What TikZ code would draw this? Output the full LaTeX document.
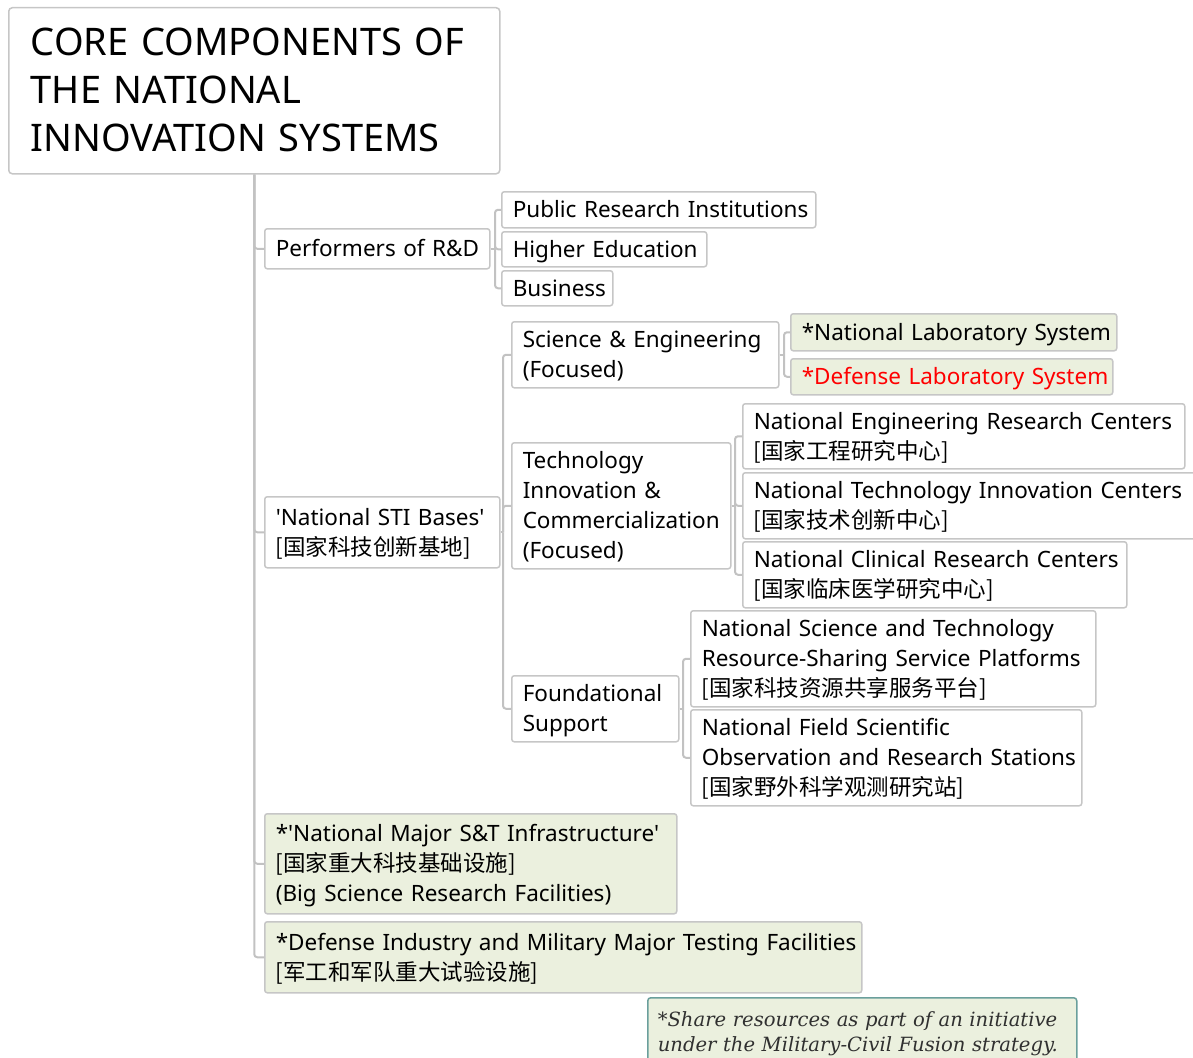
\documentclass[tikz,border=0pt]{standalone}
\usepackage{fontspec}
\setmainfont{Noto Sans}
\newfontfamily\cjk{Noto Sans CJK SC}
\newfontfamily\sq{Noto Sans}
\newfontfamily\notefont{DejaVu Serif}
\definecolor{wirecol}{HTML}{C2C2C2}
\definecolor{framecol}{HTML}{C6C6C6}
\definecolor{sage}{HTML}{EBF0DE}
\definecolor{noteframe}{HTML}{6A9F9C}
\definecolor{notetext}{HTML}{303030}
\definecolor{alertred}{HTML}{FF0000}
\newcommand\bodystrut{\rule[-7pt]{0pt}{30pt}}
\newcommand\titlestrut{\rule[-11pt]{0pt}{48pt}}
\newcommand\apos{{\sq'}}
\tikzset{
  bx/.style={draw=framecol, line width=1.5pt, rounded corners=2.5pt, anchor=north west,
    inner xsep=11pt, inner ysep=0pt, align=left, font=\fontsize{22.5}{30}\selectfont,
    execute at begin node=\bodystrut, execute at end node=\bodystrut},
  hl/.style={bx, fill=sage},
  titlebox/.style={draw=framecol, line width=1.5pt, rounded corners=3.5pt, anchor=north west,
    inner xsep=22pt, inner ysep=0pt, align=left, font=\fontsize{38}{48}\selectfont},
  notebox/.style={draw=noteframe, fill=sage, line width=1.5pt, rounded corners=3pt, anchor=north west,
    inner xsep=10pt, inner ysep=0pt, align=left, text=notetext,
    font=\notefont\itshape\fontsize{19.6}{25}\selectfont},
  wire/.style={draw=wirecol, line width=2pt, rounded corners=3pt},
}
\begin{document}
\begin{tikzpicture}[x=1pt, y=-1pt]
\useasboundingbox (0,0) rectangle (1193,1057);

% root
\node[titlebox, text width=447pt, minimum height=166pt] (title) at (8,7)
  {\titlestrut CORE COMPONENTS OF\\THE NATIONAL\\INNOVATION SYSTEMS\titlestrut};

% first level
\node[bx, text width=203pt, minimum height=40pt] (perf) at (264,228) {\mbox{Performers of R\&D}};
\node[bx, text width=213pt, minimum height=71pt] (sti) at (264,496)
  {\mbox{\apos National STI Bases\apos}\\{\cjk [国家科技创新基地]}};
\node[hl, text width=390pt, minimum height=100pt] (nmi) at (264,813)
  {\mbox{*\apos National Major S\&T Infrastructure\apos}\\{\cjk [国家重大科技基础设施]}\\\mbox{(Big Science Research Facilities)}};
\node[hl, text width=575pt, minimum height=71pt] (dimt) at (264,921)
  {\mbox{*Defense Industry and Military Major Testing Facilities}\\{\cjk [军工和军队重大试验设施]}};

% performers of R&D
\node[bx, text width=292pt, minimum height=36pt] (pri) at (501,191) {\mbox{Public Research Institutions}};
\node[bx, text width=183pt, minimum height=35pt] (he) at (501,231) {\mbox{Higher Education}};
\node[bx, text width=89pt, minimum height=35pt] (bus) at (501,270) {Business};

% national STI bases
\node[bx, text width=245pt, minimum height=66pt] (se) at (511,321) {\mbox{Science \& Engineering}\\(Focused)};
\node[bx, text width=197pt, minimum height=126pt] (tic) at (511,442)
  {Technology\\\mbox{Innovation \&}\\\mbox{Commercialization}\\(Focused)};
\node[bx, text width=145pt, minimum height=66pt] (fs) at (511,675) {Foundational\\Support};

% science & engineering
\node[hl, text width=304pt, minimum height=37pt] (nls) at (790,313) {\mbox{*National Laboratory System}};
\node[hl, text width=300pt, minimum height=36pt, text=alertred] (dls) at (790,358) {\mbox{*Defense Laboratory System}};

% technology innovation & commercialization
\node[bx, text width=420pt, minimum height=65pt] (nerc) at (742,403)
  {\mbox{National Engineering Research Centers}\\{\cjk [国家工程研究中心]}};
\node[bx, text width=448pt, minimum height=66pt] (ntic) at (742,472)
  {\mbox{National Technology Innovation Centers}\\{\cjk [国家技术创新中心]}};
\node[bx, text width=362pt, minimum height=66pt] (ncrc) at (742,541)
  {\mbox{National Clinical Research Centers}\\{\cjk [国家临床医学研究中心]}};

% foundational support
\node[bx, text width=383pt, minimum height=96pt] (nsts) at (690,610)
  {\mbox{National Science and Technology}\\\mbox{Resource-Sharing Service Platforms}\\{\cjk [国家科技资源共享服务平台]}};
\node[bx, text width=369pt, minimum height=96pt] (nfs) at (690,709)
  {\mbox{National Field Scientific}\\\mbox{Observation and Research Stations}\\{\cjk [国家野外科学观测研究站]}};

% footnote
\node[notebox, text width=409pt, minimum height=72pt] (note) at (647,997)
  {\rule[-7pt]{0pt}{25pt}\mbox{*Share resources as part of an initiative}\\\mbox{under the Military-Civil Fusion strategy.}\rule[-7pt]{0pt}{25pt}};

% trunk from the root
\foreach \c in {perf,sti,nmi,dimt}
  \draw[wire] (title.south) |- (\c.west);

% performers of R&D
\draw[wire] (perf.east) -- ++(4.5,0) coordinate (jperf);
\foreach \c in {pri,he,bus}
  \draw[wire] (jperf) |- (\c.west);

% national STI bases
\draw[wire] (sti.east) -- ++(2.5,0) coordinate (jsti);
\foreach \c in {se,tic,fs}
  \draw[wire] (jsti) |- (\c.west);

% science & engineering
\draw[wire] (se.east) -- ++(4.5,0) coordinate (jse);
\foreach \c in {nls,dls}
  \draw[wire] (jse) |- (\c.west);

% technology innovation & commercialization
\draw[wire] (tic.east) -- ++(3.5,0) coordinate (jtic);
\foreach \c in {nerc,ntic,ncrc}
  \draw[wire] (jtic) |- (\c.west);

% foundational support
\draw[wire] (fs.east) -- ++(3.5,0) coordinate (jfs);
\foreach \c in {nsts,nfs}
  \draw[wire] (jfs) |- (\c.west);
\end{tikzpicture}
\end{document}
